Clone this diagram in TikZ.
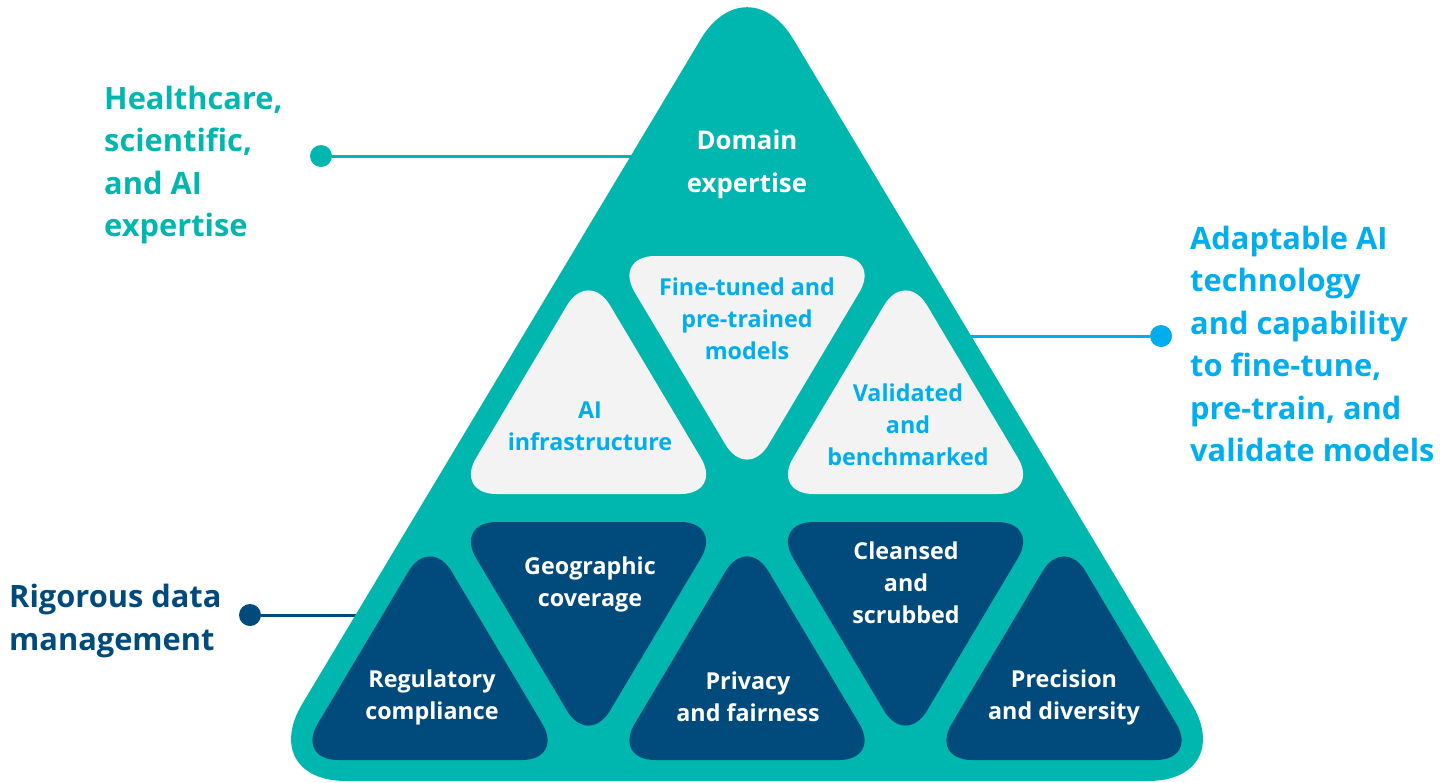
\documentclass[tikz,border=0pt]{standalone}
\usepackage{fontspec}
\setmainfont{Open Sans}
\usepackage{tikz}

\definecolor{pyrteal}{RGB}{0,183,175}
\definecolor{pyrblue}{RGB}{0,174,239}
\definecolor{pyrnavy}{RGB}{0,74,124}
\definecolor{pyrgray}{RGB}{243,243,244}

\begin{document}
\begin{tikzpicture}[x=1pt,y=-1pt]
    \tikzset{
    bigtri/.style={fill=pyrteal, rounded corners=90},
    lighttri/.style={fill=pyrgray, rounded corners=42},
    darktri/.style={fill=pyrnavy, rounded corners=42},
    txt/.style={align=center, inner sep=0, font=\bfseries\fontsize{23.3}{32}\selectfont},
    sidetxt/.style={align=left, anchor=west, inner sep=0, font=\bfseries\fontsize{30.8}{42.5}\selectfont},
    enddot/.style={circle, minimum size=22, inner sep=0},
    c1/.style={line width=3},
    }
    \useasboundingbox (0,0) rectangle (1451,782);

    % connectors
    \node[enddot, fill=pyrteal] (d1) at (321,156) {};
    \node[enddot, fill=pyrblue] (d2) at (1161,336) {};
    \node[enddot, fill=pyrnavy] (d3) at (250,615) {};
    \coordinate (e1) at (645,156);
    \coordinate (e2) at (955,336);
    \coordinate (e3) at (370,615);
    \draw[c1, pyrteal] (d1) -- (e1);
    \draw[c1, pyrblue] (d2) -- (e2);
    \draw[c1, pyrnavy] (d3) -- (e3);

    % pyramid
    \fill[bigtri] (747,781) -- (256,781) -- (747,-38) -- (1238,781) -- cycle;

    % middle row
    \fill[lighttri] (588.5,494) -- (454.6,494) -- (588.5,269.3) -- (722.4,494) -- cycle;
    \fill[lighttri] (747,256) -- (880.9,256) -- (747,480.7) -- (613.1,256) -- cycle;
    \fill[lighttri] (905.5,494) -- (771.6,494) -- (905.5,269.3) -- (1039.4,494) -- cycle;

    % bottom row
    \fill[darktri] (430,760) -- (296.1,760) -- (430,535.3) -- (563.9,760) -- cycle;
    \fill[darktri] (588.5,522) -- (722.4,522) -- (588.5,746.7) -- (454.6,522) -- cycle;
    \fill[darktri] (747,760) -- (613.1,760) -- (747,535.3) -- (880.9,760) -- cycle;
    \fill[darktri] (905.5,522) -- (1039.4,522) -- (905.5,746.7) -- (771.6,522) -- cycle;
    \fill[darktri] (1064,760) -- (930.1,760) -- (1064,535.3) -- (1197.9,760) -- cycle;

    % labels
    \node[txt, text=white, font=\bfseries\fontsize{25.8}{43}\selectfont] (domain) at (747,164) {Domain\\expertise};
    \node[txt, text=pyrblue] (finetuned) at (747,319) {Fine-tuned and\\pre-trained\\models};
    \node[txt, text=pyrblue] (infra) at (590,426) {AI\\infrastructure};
    \node[txt, text=pyrblue] (validated) at (908,425) {Validated\\and\\benchmarked};
    \node[txt, text=white] (geo) at (590,584) {Geographic\\coverage};
    \node[txt, text=white] (cleansed) at (906,583) {Cleansed\\and\\scrubbed};
    \node[txt, text=white] (regul) at (432,697) {Regulatory\\compliance};
    \node[txt, text=white] (privacy) at (748,697) {Privacy\\and fairness};
    \node[txt, text=white] (precision) at (1064,697) {Precision\\and diversity};

    \node[sidetxt, text=pyrteal] (health) at (104,165) {Healthcare,\\scientific,\\and AI\\expertise};
    \node[sidetxt, text=pyrblue] (adapt) at (1190,344) {Adaptable AI\\technology\\and capability\\to fine-tune,\\pre-train, and\\validate models};
    \node[sidetxt, text=pyrnavy] (rigorous) at (9,621) {Rigorous data\\management};

\end{tikzpicture}
\end{document}
